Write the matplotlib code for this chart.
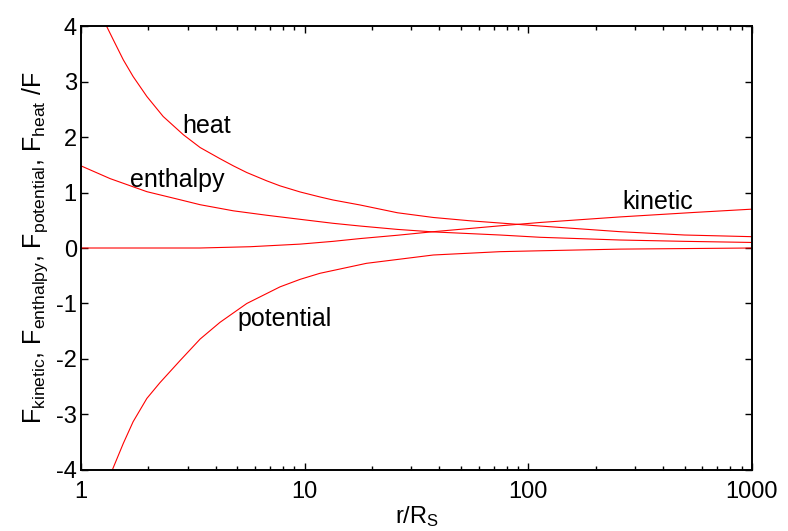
import matplotlib
matplotlib.use("Agg")
import matplotlib.pyplot as plt
from matplotlib.ticker import FixedLocator, NullFormatter

plt.rcParams['font.family'] = ['Liberation Sans', 'DejaVu Sans']
plt.rcParams['mathtext.fontset'] = 'custom'
plt.rcParams['mathtext.rm'] = 'Liberation Sans'
plt.rcParams['mathtext.it'] = 'Liberation Sans:italic'
plt.rcParams['axes.unicode_minus'] = False

# --- data ---
heat_r = [1.30, 1.395, 1.546, 1.71, 1.97, 2.33, 2.87, 3.41, 4.18, 4.80, 5.51, 6.77, 7.76,
          9.54, 11.7, 13.4, 17.7, 26, 37.6, 55, 74.8, 113, 257, 500, 1000]
heat_f = [4.0, 3.75, 3.39, 3.09, 2.73, 2.37, 2.04, 1.81, 1.61, 1.48, 1.36, 1.21, 1.12,
          1.01, 0.92, 0.865, 0.775, 0.635, 0.55, 0.49, 0.45, 0.396, 0.294, 0.234, 0.204]

enth_r = [1.0, 1.35, 1.97, 2.77, 3.41, 4.80, 6.77, 9.54, 13.4, 17.7, 26, 37.6, 74.8, 113, 257, 500, 1000]
enth_f = [1.48, 1.25, 1.015, 0.87, 0.78, 0.67, 0.59, 0.517, 0.445, 0.396, 0.335, 0.29, 0.234, 0.193,
          0.144, 0.12, 0.10]

kin_r = [1.0, 3.4, 5.7, 9.54, 13.4, 17.7, 26, 37.6, 74.8, 113, 257, 547, 1000]
kin_f = [0.0, 0.0, 0.023, 0.07, 0.12, 0.17, 0.23, 0.294, 0.40, 0.46, 0.56, 0.64, 0.70]

pot_r = [1.38, 1.546, 1.71, 1.97, 2.25, 2.77, 3.41, 4.18, 5.51, 7.76, 9.54, 11.7, 18.9, 37.6,
         74.8, 113, 257, 1000]
pot_f = [-4.0, -3.52, -3.13, -2.71, -2.43, -2.03, -1.64, -1.34, -1.0, -0.70, -0.565, -0.456,
         -0.276, -0.126, -0.066, -0.05, -0.02, 0.0]

labels = ["heat", "enthalpy", "kinetic", "potential"]
label_r = [3.66, 2.70, 380, 8.09]
label_f = [2.20, 1.225, 0.83, -1.28]

xticks = [1, 10, 100, 1000]
xticklabels = ["1", "10", "100", "1000"]
yticks = [-4, -3, -2, -1, 0, 1, 2, 3, 4]

fig = plt.figure(figsize=(7.88, 5.31), dpi=100)
ax = fig.add_axes([0.1028, 0.1149, 0.8515, 0.8361])

for r, f in [(heat_r, heat_f), (enth_r, enth_f), (kin_r, kin_f), (pot_r, pot_f)]:
    ax.plot(r, f, color='#ff0000', lw=0.8)

for t, r, f in zip(labels, label_r, label_f):
    ax.text(r, f, t, fontsize=18, ha='center', va='center')

ax.set_xscale('log')
ax.set_xlim(1, 1000)
ax.set_ylim(-4, 4)
ax.xaxis.set_major_locator(FixedLocator(xticks))
ax.set_xticklabels(xticklabels)
ax.xaxis.set_minor_formatter(NullFormatter())
ax.set_yticks(yticks)
ax.set_yticklabels([str(v) for v in yticks])

ax.tick_params(which='both', direction='in', top=True, right=True, labelsize=17, width=1.0)
ax.tick_params(which='major', length=5, pad=3)
ax.tick_params(which='minor', length=3)
ax.tick_params(axis='x', pad=8)
for s in ax.spines.values():
    s.set_linewidth(1.4)

ax.set_xlabel(r'r/R$_{\rm S}$', fontsize=17, labelpad=1)
ax.set_ylabel(r'F$_{\rm kinetic}$, F$_{\rm enthalpy}$, F$_{\rm potential}$, F$_{\rm heat}$ /F',
              fontsize=18, labelpad=4)

fig.savefig('out.png', dpi=100)
